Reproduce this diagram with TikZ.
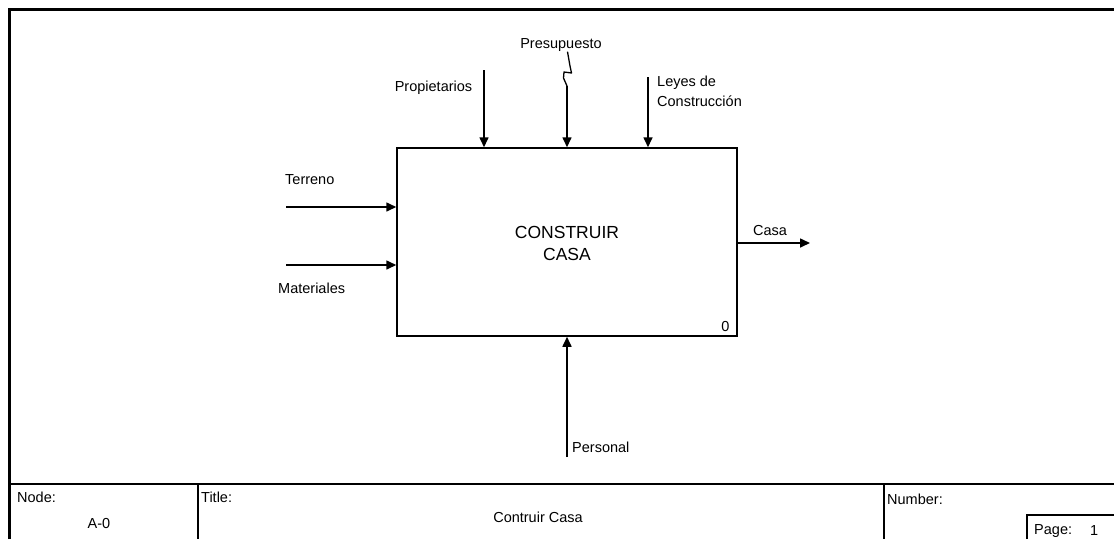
\documentclass[tikz,border=0pt]{standalone}
\usepackage{fontspec}
\setmainfont{Liberation Sans}
\usetikzlibrary{arrows.meta}
\begin{document}
\begin{tikzpicture}[x=1pt,y=-1pt,
  lbl/.style={inner sep=0pt,font=\fontsize{14.5}{20}\selectfont},
  arr/.style={line width=1.6pt,-{Triangle[length=10pt,width=9pt]}},
  thin/.style={line width=1.3pt},
  frame/.style={line width=3pt}]
\useasboundingbox (0,0) rectangle (1114,539);
\fill[white] (0,0) rectangle (1114,539);

% outer sheet border
\draw[frame] (9.5,539) -- (9.5,9.5) -- (1114,9.5);

% activity box
\node[draw,line width=1.5pt,minimum width=340pt,minimum height=188pt,inner sep=0pt] (box) at (567,242) {};
\node[inner sep=0pt,align=center,font=\fontsize{17.5}{22}\selectfont] (title) at (567,243) {CONSTRUIR\\CASA};
\node[lbl,anchor=south east] (num) at ([xshift=-8pt,yshift=5pt]box.south east) {0};

% controls
\coordinate (cprop) at (484,70);
\coordinate (cpres) at (567,86);
\coordinate (cleye) at (648,77);
\node[lbl] (lprop) at (433.5,88) {Propietarios};
\node[lbl] (lpres) at (561,45) {Presupuesto};
\node[lbl,anchor=west,align=left,font=\fontsize{14.5}{20}\selectfont] (lleye) at (657,91) {Leyes de\\Construcción};
\draw[arr] (cprop) -- (cprop |- box.north);
\draw[arr] (cpres) -- (cpres |- box.north);
\draw[arr] (cleye) -- (cleye |- box.north);
% squiggle tying the label to its arrow
\draw[thin,line join=round] (lpres.south -| 567.5,0) -- (570,66) -- (571.5,73) -- (564,72) -- (563.5,78) -- (cpres);

% inputs
\coordinate (iterr) at (286,207);
\coordinate (imat) at (286,265);
\node[lbl,anchor=west] (lterr) at (285,180) {Terreno};
\node[lbl,anchor=west] (lmat) at (278,288) {Materiales};
\draw[arr] (iterr) -- (iterr -| box.west);
\draw[arr] (imat) -- (imat -| box.west);

% output
\coordinate (ocasa) at (810,243);
\node[lbl,anchor=west] (lcasa) at (753,231) {Casa};
\draw[arr] (ocasa -| box.east) -- (ocasa);

% mechanism
\coordinate (mpers) at (567,457);
\node[lbl,anchor=west] (lpers) at (572,447) {Personal};
\draw[arr] (mpers) -- (mpers |- box.south);

% title block
\draw[thin] (9.5,484) -- (1114,484);
\draw[thin] (198,484) -- (198,539);
\draw[thin] (884,484) -- (884,539);
\draw[thin] (1027,539) -- (1027,515) -- (1114,515);
\node[lbl,anchor=west] (tnode) at (17,497) {Node:};
\node[lbl] (tnodev) at (99,523) {A-0};
\node[lbl,anchor=west] (ttitle) at (201,497) {Title:};
\node[lbl] (ttitlev) at (538,517) {Contruir Casa};
\node[lbl,anchor=west] (tnum) at (887,499) {Number:};
\node[lbl,anchor=west] (tpage) at (1034,531) {Page:};
\node[lbl,anchor=west] (tpagev) at (1090,531) {1};
\end{tikzpicture}
\end{document}
